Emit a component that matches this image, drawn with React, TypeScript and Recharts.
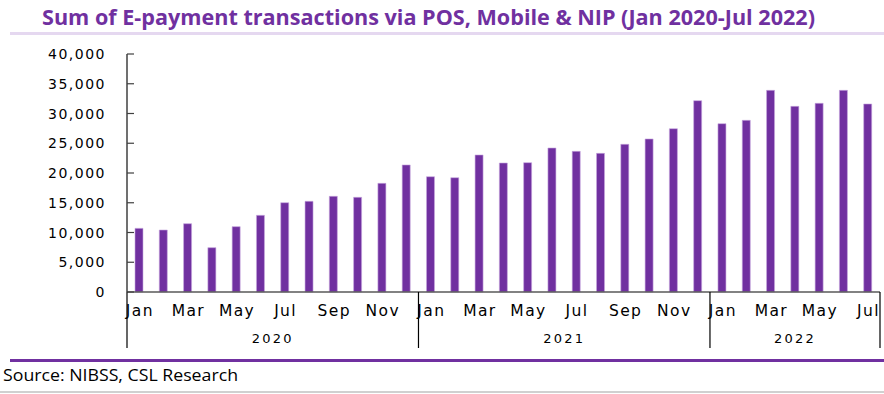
import { Bar, BarChart, XAxis, YAxis } from "recharts";

const monthNames = ["Jan", "Feb", "Mar", "Apr", "May", "Jun", "Jul", "Aug", "Sep", "Oct", "Nov", "Dec"];
const years = ["2020", "2021", "2022"];

const values2020 = [10700, 10420, 11480, 7450, 10980, 12890, 15010, 15240, 16080, 15910, 18260, 21350];
const values2021 = [19380, 19210, 23030, 21680, 21740, 24200, 23640, 23300, 24820, 25720, 27450, 32160];
const values2022 = [28290, 28850, 33890, 31200, 31710, 33890, 31600];

const yTicks = [0, 5000, 10000, 15000, 20000, 25000, 30000, 35000, 40000];

const PURPLE = "#7030A0";
const WIDTH = 884;
const PLOT_LEFT = 127;
const PLOT_RIGHT_MARGIN = 4;

const yearValues = [values2020, values2021, values2022];
const data = yearValues.flatMap((vals, yi) =>
  vals.map((v, mi) => ({
    key: `${monthNames[mi]} ${years[yi]}`,
    month: monthNames[mi],
    monthIndex: mi,
    year: years[yi],
    yearCount: vals.length,
    value: v,
  }))
);

const MonthTick = (props: any) => {
  const { x, y, payload } = props;
  const idx = payload?.index ?? props.index;
  const row = data[idx];
  if (!row) return null;
  const half =
    payload?.offset || (WIDTH - PLOT_LEFT - PLOT_RIGHT_MARGIN) / data.length / 2;
  const isLast = idx === data.length - 1;
  return (
    <g>
      {row.monthIndex % 2 === 0 && (
        <text
          x={x + 0.7}
          y={y + 24}
          textAnchor="middle"
          fill="#000"
          fontSize={15.5}
          letterSpacing={1.4}
          fontFamily="'DejaVu Sans', sans-serif"
        >
          {row.month}
        </text>
      )}
      {row.monthIndex === 0 && (
        <>
          <line x1={x - half} x2={x - half} y1={y} y2={y + 56} stroke="#000" strokeWidth={1.2} />
          <text
            x={x + (row.yearCount - 1) * half}
            y={y + 51}
            textAnchor="middle"
            fill="#000"
            fontSize={13}
            letterSpacing={2.2}
            fontFamily="'DejaVu Sans', sans-serif"
          >
            {row.year}
          </text>
        </>
      )}
      {isLast && (
        <line x1={x + half} x2={x + half} y1={y} y2={y + 56} stroke="#000" strokeWidth={1.2} />
      )}
    </g>
  );
};

const ValueTick = (props: any) => {
  const { x, y, payload } = props;
  return (
    <g>
      <line x1={x} x2={x + 7} y1={y} y2={y} stroke="#404040" strokeWidth={1.2} />
      <text
        x={x - 21}
        y={y + 5}
        textAnchor="end"
        fill="#000"
        fontSize={14}
        letterSpacing={1.5}
        fontFamily="'DejaVu Sans', sans-serif"
      >
        {Number(payload.value).toLocaleString("en-US")}
      </text>
    </g>
  );
};

export default function App() {
  return (
    <div style={{ position: "absolute", left: 0, top: 0, width: WIDTH, height: 394, background: "#fff" }}>
      <BarChart
        width={WIDTH}
        height={350}
        data={data}
        margin={{ top: 54, right: PLOT_RIGHT_MARGIN, bottom: 2, left: 0 }}
        barCategoryGap={0}
      >
        <XAxis
          dataKey="key"
          interval={0}
          height={56}
          tickLine={false}
          tickSize={0}
          tickMargin={0}
          axisLine={{ stroke: "#595959", strokeWidth: 1.5 }}
          tick={<MonthTick />}
        />
        <YAxis
          width={PLOT_LEFT}
          domain={[0, 40000]}
          ticks={yTicks}
          interval={0}
          tickLine={false}
          tickSize={0}
          tickMargin={0}
          axisLine={{ stroke: "#404040", strokeWidth: 1.5 }}
          tick={<ValueTick />}
        />
        <Bar
          dataKey="value"
          fill={PURPLE}
          stroke="#C7A8DF"
          strokeWidth={0.6}
          barSize={8}
          isAnimationActive={false}
        />
      </BarChart>
      <svg
        width={WIDTH}
        height={394}
        style={{ position: "absolute", left: 0, top: 0, pointerEvents: "none" }}
      >
        <text
          x={42}
          y={25}
          fill={PURPLE}
          fontSize={21}
          fontWeight={700}
          fontFamily="'Open Sans', sans-serif"
          textLength={773}
          lengthAdjust="spacingAndGlyphs"
        >
          Sum of E-payment transactions via POS, Mobile &amp; NIP (Jan 2020-Jul 2022)
        </text>
        <rect x={10} y={32} width={WIDTH - 10} height={3} fill="#E5D8F0" />
        <rect x={10} y={359} width={WIDTH - 10} height={3} fill={PURPLE} />
        <text
          x={3}
          y={381}
          fill="#000"
          fontSize={16}
          fontFamily="'Open Sans', sans-serif"
          textLength={235}
          lengthAdjust="spacingAndGlyphs"
        >
          Source: NIBSS, CSL Research
        </text>
        <rect x={0} y={391} width={WIDTH} height={2} fill="#D0D0D0" />
      </svg>
    </div>
  );
}
